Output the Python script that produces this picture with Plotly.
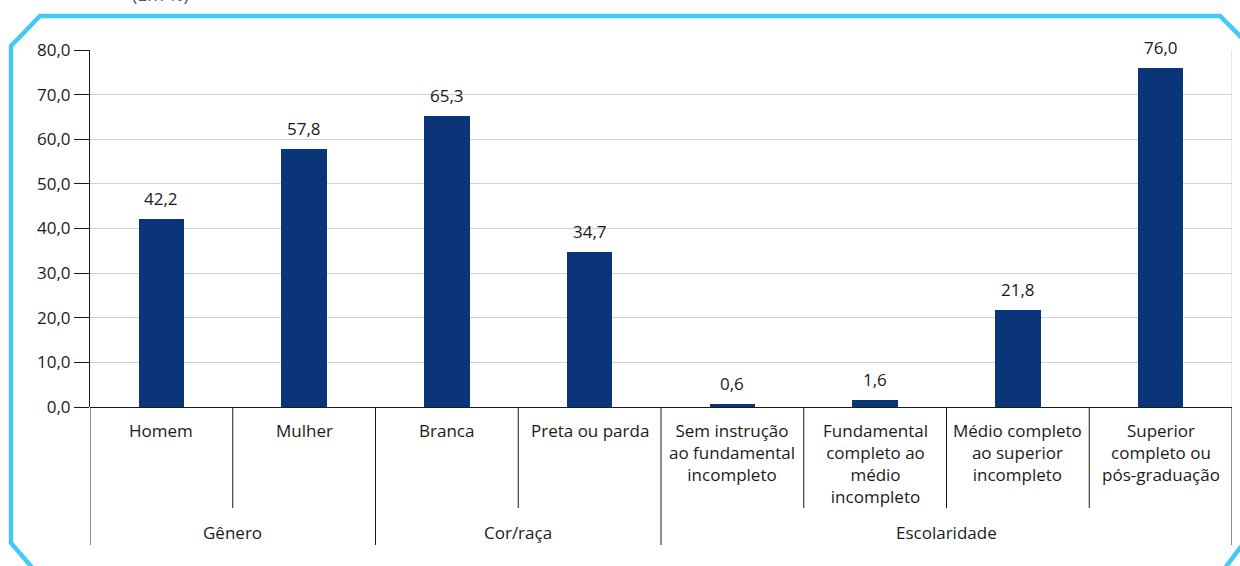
import plotly.graph_objects as go

categories = ["Homem", "Mulher", "Branca", "Preta ou parda",
              "Sem instrução<br>ao fundamental<br>incompleto",
              "Fundamental<br>completo ao<br>médio<br>incompleto",
              "Médio completo<br>ao superior<br>incompleto",
              "Superior<br>completo ou<br>pós-graduação"]
values = [42.2, 57.8, 65.3, 34.7, 0.6, 1.6, 21.8, 76.0]
groups = ["Gênero", "Cor/raça", "Escolaridade"]
group_sizes = [2, 2, 4]
y_ticks = [0, 10, 20, 30, 40, 50, 60, 70, 80]
title = "(Em %)"

W, H = 1240, 566
L, R, T, B = 90, 8, 50, 159
PW, PH = W - L - R, H - T - B

def px(x):
    return (x - L) / PW

def py(y):
    return (H - B - y) / PH

FONT = "Open Sans"
FS = 17
TXT = "#1a1a1a"
n = len(categories)
xs = [i + 0.5 for i in range(n)]

fig = go.Figure()
fig.add_trace(go.Bar(
    x=xs, y=values, width=0.32,
    marker=dict(color="#0A3679", line=dict(width=0)),
    hoverinfo="skip",
))

shapes = []
starts = []
s = 0
for g in group_sizes:
    starts.append(s)
    s += g
major = set(starts + [n])
for i in range(n + 1):
    bottom = 545 if i in major else 508
    shapes.append(dict(type="line", xref="x", yref="paper", x0=i, x1=i,
                       y0=0, y1=py(bottom), line=dict(color=TXT, width=1)))
shapes.append(dict(type="line", xref="x", yref="paper", x0=n, x1=n, y0=0, y1=1,
                   line=dict(color="#d0d0d0", width=1), layer="below"))

# frame
fc = "#45C8F5"
pts = [(36, 572), (11, 543), (11, 46), (40, 16), (1220, 16), (1246, 42)]
path = "M " + " L ".join(f"{px(a)},{py(b)}" for a, b in pts)
shapes.append(dict(type="path", xref="paper", yref="paper", path=path,
                   line=dict(color=fc, width=4.5)))
pts2 = [(1246, 540), (1222, 572)]
path2 = "M " + " L ".join(f"{px(a)},{py(b)}" for a, b in pts2)
shapes.append(dict(type="path", xref="paper", yref="paper", path=path2,
                   line=dict(color=fc, width=4.5)))

annotations = []
for x, v in zip(xs, values):
    annotations.append(dict(x=x, xref="x", y=v, yref="y",
                            text=f"{v:.1f}".replace(".", ","), showarrow=False,
                            yanchor="bottom", yshift=7,
                            font=dict(family=FONT, size=FS, color=TXT)))
for i, c in enumerate(categories):
    annotations.append(dict(x=xs[i], xref="x", y=py(417), yref="paper",
                            text=c, showarrow=False, yanchor="top",
                            font=dict(family=FONT, size=FS, color=TXT)))
for g, st, sz in zip(groups, starts, group_sizes):
    annotations.append(dict(x=st + sz / 2, xref="x", y=py(532), yref="paper",
                            text=g, showarrow=False, yanchor="middle",
                            font=dict(family=FONT, size=FS, color=TXT)))
annotations.append(dict(x=px(130), xref="paper", y=py(-6), yref="paper",
                        text=title, showarrow=False, yanchor="middle",
                        font=dict(family=FONT, size=18, color="#555555")))

fig.update_layout(
    width=W, height=H,
    margin=dict(l=L, r=R, t=T, b=B),
    paper_bgcolor="white", plot_bgcolor="white",
    showlegend=False,
    separators=",.",
    shapes=shapes, annotations=annotations,
    xaxis=dict(range=[0, n], showticklabels=False, showgrid=False,
               zeroline=False, showline=False, ticks="", fixedrange=True),
    yaxis=dict(range=[0, 80], tickvals=y_ticks, tickformat=".1f",
               showgrid=True, gridcolor="#d0d0d0", gridwidth=1,
               zeroline=True, zerolinecolor=TXT, zerolinewidth=1,
               showline=True, linecolor=TXT, linewidth=1,
               ticks="outside", ticklen=15, tickcolor=TXT,
               tickfont=dict(family=FONT, size=FS, color=TXT),
               fixedrange=True),
    bargap=0,
)

fig.write_html("out.html", config={"displayModeBar": False},
               post_script="document.body.style.margin='0';")
